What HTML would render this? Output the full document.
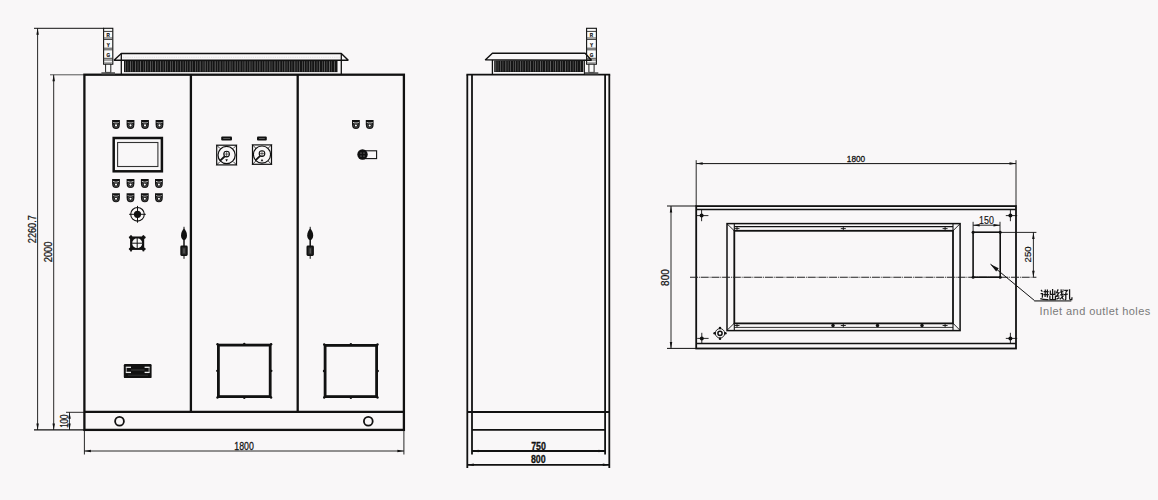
<!DOCTYPE html>
<html><head><meta charset="utf-8"><style>
html,body{margin:0;padding:0;background:#f9f7f8;}
svg{display:block;}
</style></head><body>
<svg width="1158" height="500" viewBox="0 0 1158 500">
<rect x="0" y="0" width="1158" height="500" fill="#f9f7f8"/>
<line x1="34" y1="28.3" x2="104" y2="28.3" stroke="#111" stroke-width="1.0" />
<line x1="37.6" y1="28.3" x2="37.6" y2="429.9" stroke="#111" stroke-width="0.9" />
<path d="M37.60,28.30 L38.85,34.80 L36.35,34.80 Z" fill="#111"/>
<path d="M37.60,429.90 L36.35,423.40 L38.85,423.40 Z" fill="#111"/>
<line x1="50" y1="74.8" x2="84" y2="74.8" stroke="#555" stroke-width="1.0" />
<line x1="53.7" y1="74.8" x2="53.7" y2="429.9" stroke="#111" stroke-width="0.9" />
<path d="M53.70,74.80 L54.95,81.30 L52.45,81.30 Z" fill="#111"/>
<path d="M53.70,429.90 L52.45,423.40 L54.95,423.40 Z" fill="#111"/>
<line x1="34" y1="429.9" x2="84" y2="429.9" stroke="#111" stroke-width="1.4" />
<line x1="66" y1="412.3" x2="84" y2="412.3" stroke="#111" stroke-width="0.9" />
<line x1="69.5" y1="412.3" x2="69.5" y2="429.9" stroke="#111" stroke-width="0.8" />
<path d="M69.50,412.30 L70.75,418.80 L68.25,418.80 Z" fill="#111"/>
<path d="M69.50,429.90 L68.25,423.40 L70.75,423.40 Z" fill="#111"/>
<text transform="translate(35.9,229.2) rotate(-90) scale(0.88,1)" font-family="Liberation Sans" font-size="10.4" font-weight="normal" text-anchor="middle" fill="#111" stroke="#111" stroke-width="0.25" >2260.7</text>
<text transform="translate(51.6,251.9) rotate(-90) scale(0.9,1)" font-family="Liberation Sans" font-size="10.4" font-weight="normal" text-anchor="middle" fill="#111" stroke="#111" stroke-width="0.25" >2000</text>
<text transform="translate(68.2,421.2) rotate(-90) scale(0.74,1)" font-family="Liberation Sans" font-size="10.8" font-weight="normal" text-anchor="middle" fill="#111" stroke="#111" stroke-width="0.2" >100</text>
<rect x="84.4" y="74.7" width="319.5" height="355.2" stroke="#111" stroke-width="2.3" fill="none" />
<line x1="84.4" y1="411.9" x2="403.9" y2="411.9" stroke="#111" stroke-width="2.2" />
<line x1="190.9" y1="74.7" x2="190.9" y2="412" stroke="#111" stroke-width="2.3" />
<line x1="297.7" y1="74.7" x2="297.7" y2="412" stroke="#111" stroke-width="2.3" />
<circle cx="119.5" cy="421.2" r="4.4" fill="none" stroke="#111" stroke-width="1.8"/>
<circle cx="368.3" cy="421.2" r="4.4" fill="none" stroke="#111" stroke-width="1.8"/>
<line x1="84.4" y1="429.9" x2="84.4" y2="454.5" stroke="#111" stroke-width="0.9" />
<line x1="403.9" y1="429.9" x2="403.9" y2="454.5" stroke="#111" stroke-width="0.9" />
<line x1="84.4" y1="451" x2="403.9" y2="451" stroke="#111" stroke-width="0.9" />
<path d="M84.40,451.00 L90.90,449.75 L90.90,452.25 Z" fill="#111"/>
<path d="M403.90,451.00 L397.40,452.25 L397.40,449.75 Z" fill="#111"/>
<text transform="translate(244,449.8) scale(0.86,1)" font-family="Liberation Sans" font-size="10.2" font-weight="normal" text-anchor="middle" fill="#111" stroke="#111" stroke-width="0.25" >1800</text>
<path d="M114,60.3 L121.3,53.5 L341.3,53.5 L348.3,60.3 Z" fill="#f9f7f8" stroke="#111" stroke-width="1.4" stroke-linejoin="bevel"/>
<line x1="121.3" y1="53.5" x2="121.3" y2="74.8" stroke="#111" stroke-width="1.3" />
<line x1="341.3" y1="53.5" x2="341.3" y2="74.8" stroke="#111" stroke-width="1.3" />
<line x1="123" y1="57.3" x2="340" y2="57.3" stroke="#ccc" stroke-width="0.8" stroke-dasharray="1.2,1" opacity="0.6"/>
<rect x="124" y="60.6" width="213.5" height="11.499999999999993" fill="#151515"/>
<line x1="125.6" y1="61.2" x2="125.6" y2="71.69999999999999" stroke="#c8c8c8" stroke-width="0.55" opacity="0.75"/>
<line x1="127.9" y1="61.2" x2="127.9" y2="71.69999999999999" stroke="#c8c8c8" stroke-width="0.55" opacity="0.5"/>
<line x1="130.5" y1="61.2" x2="130.5" y2="71.69999999999999" stroke="#c8c8c8" stroke-width="0.55" opacity="0.75"/>
<line x1="132.7" y1="61.2" x2="132.7" y2="71.69999999999999" stroke="#c8c8c8" stroke-width="0.55" opacity="0.5"/>
<line x1="135.6" y1="61.2" x2="135.6" y2="71.69999999999999" stroke="#c8c8c8" stroke-width="0.55" opacity="0.75"/>
<line x1="138.0" y1="61.2" x2="138.0" y2="71.69999999999999" stroke="#c8c8c8" stroke-width="0.55" opacity="0.5"/>
<line x1="140.5" y1="61.2" x2="140.5" y2="71.69999999999999" stroke="#c8c8c8" stroke-width="0.55" opacity="0.75"/>
<line x1="143.3" y1="61.2" x2="143.3" y2="71.69999999999999" stroke="#c8c8c8" stroke-width="0.55" opacity="0.5"/>
<line x1="145.5" y1="61.2" x2="145.5" y2="71.69999999999999" stroke="#c8c8c8" stroke-width="0.55" opacity="0.75"/>
<line x1="147.8" y1="61.2" x2="147.8" y2="71.69999999999999" stroke="#c8c8c8" stroke-width="0.55" opacity="0.5"/>
<line x1="150.4" y1="61.2" x2="150.4" y2="71.69999999999999" stroke="#c8c8c8" stroke-width="0.55" opacity="0.75"/>
<line x1="152.6" y1="61.2" x2="152.6" y2="71.69999999999999" stroke="#c8c8c8" stroke-width="0.55" opacity="0.5"/>
<line x1="155.5" y1="61.2" x2="155.5" y2="71.69999999999999" stroke="#c8c8c8" stroke-width="0.55" opacity="0.75"/>
<line x1="157.9" y1="61.2" x2="157.9" y2="71.69999999999999" stroke="#c8c8c8" stroke-width="0.55" opacity="0.5"/>
<line x1="160.4" y1="61.2" x2="160.4" y2="71.69999999999999" stroke="#c8c8c8" stroke-width="0.55" opacity="0.75"/>
<line x1="163.2" y1="61.2" x2="163.2" y2="71.69999999999999" stroke="#c8c8c8" stroke-width="0.55" opacity="0.5"/>
<line x1="165.4" y1="61.2" x2="165.4" y2="71.69999999999999" stroke="#c8c8c8" stroke-width="0.55" opacity="0.75"/>
<line x1="167.7" y1="61.2" x2="167.7" y2="71.69999999999999" stroke="#c8c8c8" stroke-width="0.55" opacity="0.5"/>
<line x1="170.3" y1="61.2" x2="170.3" y2="71.69999999999999" stroke="#c8c8c8" stroke-width="0.55" opacity="0.75"/>
<line x1="172.5" y1="61.2" x2="172.5" y2="71.69999999999999" stroke="#c8c8c8" stroke-width="0.55" opacity="0.5"/>
<line x1="175.4" y1="61.2" x2="175.4" y2="71.69999999999999" stroke="#c8c8c8" stroke-width="0.55" opacity="0.75"/>
<line x1="177.8" y1="61.2" x2="177.8" y2="71.69999999999999" stroke="#c8c8c8" stroke-width="0.55" opacity="0.5"/>
<line x1="180.3" y1="61.2" x2="180.3" y2="71.69999999999999" stroke="#c8c8c8" stroke-width="0.55" opacity="0.75"/>
<line x1="183.1" y1="61.2" x2="183.1" y2="71.69999999999999" stroke="#c8c8c8" stroke-width="0.55" opacity="0.5"/>
<line x1="185.3" y1="61.2" x2="185.3" y2="71.69999999999999" stroke="#c8c8c8" stroke-width="0.55" opacity="0.75"/>
<line x1="187.6" y1="61.2" x2="187.6" y2="71.69999999999999" stroke="#c8c8c8" stroke-width="0.55" opacity="0.5"/>
<line x1="190.2" y1="61.2" x2="190.2" y2="71.69999999999999" stroke="#c8c8c8" stroke-width="0.55" opacity="0.75"/>
<line x1="192.4" y1="61.2" x2="192.4" y2="71.69999999999999" stroke="#c8c8c8" stroke-width="0.55" opacity="0.5"/>
<line x1="195.3" y1="61.2" x2="195.3" y2="71.69999999999999" stroke="#c8c8c8" stroke-width="0.55" opacity="0.75"/>
<line x1="197.7" y1="61.2" x2="197.7" y2="71.69999999999999" stroke="#c8c8c8" stroke-width="0.55" opacity="0.5"/>
<line x1="200.2" y1="61.2" x2="200.2" y2="71.69999999999999" stroke="#c8c8c8" stroke-width="0.55" opacity="0.75"/>
<line x1="203.0" y1="61.2" x2="203.0" y2="71.69999999999999" stroke="#c8c8c8" stroke-width="0.55" opacity="0.5"/>
<line x1="205.2" y1="61.2" x2="205.2" y2="71.69999999999999" stroke="#c8c8c8" stroke-width="0.55" opacity="0.75"/>
<line x1="207.5" y1="61.2" x2="207.5" y2="71.69999999999999" stroke="#c8c8c8" stroke-width="0.55" opacity="0.5"/>
<line x1="210.1" y1="61.2" x2="210.1" y2="71.69999999999999" stroke="#c8c8c8" stroke-width="0.55" opacity="0.75"/>
<line x1="212.3" y1="61.2" x2="212.3" y2="71.69999999999999" stroke="#c8c8c8" stroke-width="0.55" opacity="0.5"/>
<line x1="215.2" y1="61.2" x2="215.2" y2="71.69999999999999" stroke="#c8c8c8" stroke-width="0.55" opacity="0.75"/>
<line x1="217.6" y1="61.2" x2="217.6" y2="71.69999999999999" stroke="#c8c8c8" stroke-width="0.55" opacity="0.5"/>
<line x1="220.1" y1="61.2" x2="220.1" y2="71.69999999999999" stroke="#c8c8c8" stroke-width="0.55" opacity="0.75"/>
<line x1="222.9" y1="61.2" x2="222.9" y2="71.69999999999999" stroke="#c8c8c8" stroke-width="0.55" opacity="0.5"/>
<line x1="225.1" y1="61.2" x2="225.1" y2="71.69999999999999" stroke="#c8c8c8" stroke-width="0.55" opacity="0.75"/>
<line x1="227.4" y1="61.2" x2="227.4" y2="71.69999999999999" stroke="#c8c8c8" stroke-width="0.55" opacity="0.5"/>
<line x1="230.0" y1="61.2" x2="230.0" y2="71.69999999999999" stroke="#c8c8c8" stroke-width="0.55" opacity="0.75"/>
<line x1="232.2" y1="61.2" x2="232.2" y2="71.69999999999999" stroke="#c8c8c8" stroke-width="0.55" opacity="0.5"/>
<line x1="235.1" y1="61.2" x2="235.1" y2="71.69999999999999" stroke="#c8c8c8" stroke-width="0.55" opacity="0.75"/>
<line x1="237.5" y1="61.2" x2="237.5" y2="71.69999999999999" stroke="#c8c8c8" stroke-width="0.55" opacity="0.5"/>
<line x1="240.0" y1="61.2" x2="240.0" y2="71.69999999999999" stroke="#c8c8c8" stroke-width="0.55" opacity="0.75"/>
<line x1="242.8" y1="61.2" x2="242.8" y2="71.69999999999999" stroke="#c8c8c8" stroke-width="0.55" opacity="0.5"/>
<line x1="245.0" y1="61.2" x2="245.0" y2="71.69999999999999" stroke="#c8c8c8" stroke-width="0.55" opacity="0.75"/>
<line x1="247.3" y1="61.2" x2="247.3" y2="71.69999999999999" stroke="#c8c8c8" stroke-width="0.55" opacity="0.5"/>
<line x1="249.9" y1="61.2" x2="249.9" y2="71.69999999999999" stroke="#c8c8c8" stroke-width="0.55" opacity="0.75"/>
<line x1="252.1" y1="61.2" x2="252.1" y2="71.69999999999999" stroke="#c8c8c8" stroke-width="0.55" opacity="0.5"/>
<line x1="255.0" y1="61.2" x2="255.0" y2="71.69999999999999" stroke="#c8c8c8" stroke-width="0.55" opacity="0.75"/>
<line x1="257.4" y1="61.2" x2="257.4" y2="71.69999999999999" stroke="#c8c8c8" stroke-width="0.55" opacity="0.5"/>
<line x1="259.9" y1="61.2" x2="259.9" y2="71.69999999999999" stroke="#c8c8c8" stroke-width="0.55" opacity="0.75"/>
<line x1="262.7" y1="61.2" x2="262.7" y2="71.69999999999999" stroke="#c8c8c8" stroke-width="0.55" opacity="0.5"/>
<line x1="264.9" y1="61.2" x2="264.9" y2="71.69999999999999" stroke="#c8c8c8" stroke-width="0.55" opacity="0.75"/>
<line x1="267.2" y1="61.2" x2="267.2" y2="71.69999999999999" stroke="#c8c8c8" stroke-width="0.55" opacity="0.5"/>
<line x1="269.8" y1="61.2" x2="269.8" y2="71.69999999999999" stroke="#c8c8c8" stroke-width="0.55" opacity="0.75"/>
<line x1="272.0" y1="61.2" x2="272.0" y2="71.69999999999999" stroke="#c8c8c8" stroke-width="0.55" opacity="0.5"/>
<line x1="274.9" y1="61.2" x2="274.9" y2="71.69999999999999" stroke="#c8c8c8" stroke-width="0.55" opacity="0.75"/>
<line x1="277.3" y1="61.2" x2="277.3" y2="71.69999999999999" stroke="#c8c8c8" stroke-width="0.55" opacity="0.5"/>
<line x1="279.8" y1="61.2" x2="279.8" y2="71.69999999999999" stroke="#c8c8c8" stroke-width="0.55" opacity="0.75"/>
<line x1="282.6" y1="61.2" x2="282.6" y2="71.69999999999999" stroke="#c8c8c8" stroke-width="0.55" opacity="0.5"/>
<line x1="284.8" y1="61.2" x2="284.8" y2="71.69999999999999" stroke="#c8c8c8" stroke-width="0.55" opacity="0.75"/>
<line x1="287.1" y1="61.2" x2="287.1" y2="71.69999999999999" stroke="#c8c8c8" stroke-width="0.55" opacity="0.5"/>
<line x1="289.7" y1="61.2" x2="289.7" y2="71.69999999999999" stroke="#c8c8c8" stroke-width="0.55" opacity="0.75"/>
<line x1="291.9" y1="61.2" x2="291.9" y2="71.69999999999999" stroke="#c8c8c8" stroke-width="0.55" opacity="0.5"/>
<line x1="294.8" y1="61.2" x2="294.8" y2="71.69999999999999" stroke="#c8c8c8" stroke-width="0.55" opacity="0.75"/>
<line x1="297.2" y1="61.2" x2="297.2" y2="71.69999999999999" stroke="#c8c8c8" stroke-width="0.55" opacity="0.5"/>
<line x1="299.7" y1="61.2" x2="299.7" y2="71.69999999999999" stroke="#c8c8c8" stroke-width="0.55" opacity="0.75"/>
<line x1="302.5" y1="61.2" x2="302.5" y2="71.69999999999999" stroke="#c8c8c8" stroke-width="0.55" opacity="0.5"/>
<line x1="304.7" y1="61.2" x2="304.7" y2="71.69999999999999" stroke="#c8c8c8" stroke-width="0.55" opacity="0.75"/>
<line x1="307.0" y1="61.2" x2="307.0" y2="71.69999999999999" stroke="#c8c8c8" stroke-width="0.55" opacity="0.5"/>
<line x1="309.6" y1="61.2" x2="309.6" y2="71.69999999999999" stroke="#c8c8c8" stroke-width="0.55" opacity="0.75"/>
<line x1="311.8" y1="61.2" x2="311.8" y2="71.69999999999999" stroke="#c8c8c8" stroke-width="0.55" opacity="0.5"/>
<line x1="314.7" y1="61.2" x2="314.7" y2="71.69999999999999" stroke="#c8c8c8" stroke-width="0.55" opacity="0.75"/>
<line x1="317.1" y1="61.2" x2="317.1" y2="71.69999999999999" stroke="#c8c8c8" stroke-width="0.55" opacity="0.5"/>
<line x1="319.6" y1="61.2" x2="319.6" y2="71.69999999999999" stroke="#c8c8c8" stroke-width="0.55" opacity="0.75"/>
<line x1="322.4" y1="61.2" x2="322.4" y2="71.69999999999999" stroke="#c8c8c8" stroke-width="0.55" opacity="0.5"/>
<line x1="324.6" y1="61.2" x2="324.6" y2="71.69999999999999" stroke="#c8c8c8" stroke-width="0.55" opacity="0.75"/>
<line x1="326.9" y1="61.2" x2="326.9" y2="71.69999999999999" stroke="#c8c8c8" stroke-width="0.55" opacity="0.5"/>
<line x1="329.5" y1="61.2" x2="329.5" y2="71.69999999999999" stroke="#c8c8c8" stroke-width="0.55" opacity="0.75"/>
<line x1="331.7" y1="61.2" x2="331.7" y2="71.69999999999999" stroke="#c8c8c8" stroke-width="0.55" opacity="0.5"/>
<line x1="334.6" y1="61.2" x2="334.6" y2="71.69999999999999" stroke="#c8c8c8" stroke-width="0.55" opacity="0.75"/>
<rect x="103.6" y="28.3" width="9.200000000000003" height="35.900000000000006" fill="#fbfbfb" stroke="#111" stroke-width="1.1"/>
<line x1="103.6" y1="31.4" x2="112.8" y2="31.4" stroke="#222" stroke-width="0.9" />
<line x1="103.6" y1="38.0" x2="112.8" y2="38.0" stroke="#333" stroke-width="0.9" />
<line x1="103.6" y1="39.5" x2="112.8" y2="39.5" stroke="#333" stroke-width="0.9" />
<line x1="103.6" y1="48.2" x2="112.8" y2="48.2" stroke="#333" stroke-width="0.9" />
<line x1="103.6" y1="49.8" x2="112.8" y2="49.8" stroke="#333" stroke-width="0.9" />
<line x1="103.6" y1="58.3" x2="112.8" y2="58.3" stroke="#333" stroke-width="0.9" />
<line x1="103.6" y1="60.0" x2="112.8" y2="60.0" stroke="#333" stroke-width="0.9" />
<line x1="103.6" y1="62.4" x2="112.8" y2="62.4" stroke="#666" stroke-width="0.6" />
<text transform="translate(108.19999999999999,36.6)" font-family="Liberation Sans" font-size="4.6" font-weight="bold" text-anchor="middle" fill="#111" stroke="#111" stroke-width="0.2" >R</text>
<text transform="translate(108.19999999999999,46.6)" font-family="Liberation Sans" font-size="4.6" font-weight="bold" text-anchor="middle" fill="#111" stroke="#111" stroke-width="0.2" >Y</text>
<text transform="translate(108.19999999999999,56.6)" font-family="Liberation Sans" font-size="4.6" font-weight="bold" text-anchor="middle" fill="#111" stroke="#111" stroke-width="0.2" >G</text>
<rect x="105.6" y="64.2" width="5.2" height="8.2" fill="#fbfbfb" stroke="#222" stroke-width="1.0"/>
<rect x="101.39999999999999" y="72.2" width="13.6" height="2.2" fill="#555"/>
<path d="M112.1,119.9 L119.9,119.9 L119.9,124.4 Q119.9,128.9 116,128.9 Q112.1,128.9 112.1,124.4 Z" fill="#111"/>
<path d="M113.1,121.9 Q116,123.10000000000001 118.9,121.9 L118.9,122.80000000000001 Q116,123.5 113.1,122.80000000000001 Z" fill="#fff" opacity="0.9"/>
<circle cx="116" cy="125.4" r="2.3" fill="none" stroke="#777" stroke-width="0.5"/>
<circle cx="116" cy="125.4" r="1.05" fill="#fff"/>
<path d="M126.6,119.9 L134.4,119.9 L134.4,124.4 Q134.4,128.9 130.5,128.9 Q126.6,128.9 126.6,124.4 Z" fill="#111"/>
<path d="M127.6,121.9 Q130.5,123.10000000000001 133.4,121.9 L133.4,122.80000000000001 Q130.5,123.5 127.6,122.80000000000001 Z" fill="#fff" opacity="0.9"/>
<circle cx="130.5" cy="125.4" r="2.3" fill="none" stroke="#777" stroke-width="0.5"/>
<circle cx="130.5" cy="125.4" r="1.05" fill="#fff"/>
<path d="M141.1,119.9 L148.9,119.9 L148.9,124.4 Q148.9,128.9 145,128.9 Q141.1,128.9 141.1,124.4 Z" fill="#111"/>
<path d="M142.1,121.9 Q145,123.10000000000001 147.9,121.9 L147.9,122.80000000000001 Q145,123.5 142.1,122.80000000000001 Z" fill="#fff" opacity="0.9"/>
<circle cx="145" cy="125.4" r="2.3" fill="none" stroke="#777" stroke-width="0.5"/>
<circle cx="145" cy="125.4" r="1.05" fill="#fff"/>
<path d="M155.6,119.9 L163.4,119.9 L163.4,124.4 Q163.4,128.9 159.5,128.9 Q155.6,128.9 155.6,124.4 Z" fill="#111"/>
<path d="M156.6,121.9 Q159.5,123.10000000000001 162.4,121.9 L162.4,122.80000000000001 Q159.5,123.5 156.6,122.80000000000001 Z" fill="#fff" opacity="0.9"/>
<circle cx="159.5" cy="125.4" r="2.3" fill="none" stroke="#777" stroke-width="0.5"/>
<circle cx="159.5" cy="125.4" r="1.05" fill="#fff"/>
<rect x="113.7" y="138.0" width="48.2" height="33.30000000000001" stroke="#111" stroke-width="2.5" fill="none" />
<rect x="117.6" y="142.5" width="40.30000000000001" height="24.0" stroke="#333" stroke-width="1.1" fill="none" />
<path d="M112.1,179.1 L119.9,179.1 L119.9,183.6 Q119.9,188.1 116,188.1 Q112.1,188.1 112.1,183.6 Z" fill="#111"/>
<path d="M113.1,181.1 Q116,182.29999999999998 118.9,181.1 L118.9,182.0 Q116,182.7 113.1,182.0 Z" fill="#fff" opacity="0.9"/>
<circle cx="116" cy="184.6" r="2.3" fill="none" stroke="#777" stroke-width="0.5"/>
<circle cx="116" cy="184.6" r="1.05" fill="#fff"/>
<path d="M126.6,179.1 L134.4,179.1 L134.4,183.6 Q134.4,188.1 130.5,188.1 Q126.6,188.1 126.6,183.6 Z" fill="#111"/>
<path d="M127.6,181.1 Q130.5,182.29999999999998 133.4,181.1 L133.4,182.0 Q130.5,182.7 127.6,182.0 Z" fill="#fff" opacity="0.9"/>
<circle cx="130.5" cy="184.6" r="2.3" fill="none" stroke="#777" stroke-width="0.5"/>
<circle cx="130.5" cy="184.6" r="1.05" fill="#fff"/>
<path d="M140.9,179.1 L148.70000000000002,179.1 L148.70000000000002,183.6 Q148.70000000000002,188.1 144.8,188.1 Q140.9,188.1 140.9,183.6 Z" fill="#111"/>
<path d="M141.9,181.1 Q144.8,182.29999999999998 147.70000000000002,181.1 L147.70000000000002,182.0 Q144.8,182.7 141.9,182.0 Z" fill="#fff" opacity="0.9"/>
<circle cx="144.8" cy="184.6" r="2.3" fill="none" stroke="#777" stroke-width="0.5"/>
<circle cx="144.8" cy="184.6" r="1.05" fill="#fff"/>
<path d="M155.0,179.1 L162.8,179.1 L162.8,183.6 Q162.8,188.1 158.9,188.1 Q155.0,188.1 155.0,183.6 Z" fill="#111"/>
<path d="M156.0,181.1 Q158.9,182.29999999999998 161.8,181.1 L161.8,182.0 Q158.9,182.7 156.0,182.0 Z" fill="#fff" opacity="0.9"/>
<circle cx="158.9" cy="184.6" r="2.3" fill="none" stroke="#777" stroke-width="0.5"/>
<circle cx="158.9" cy="184.6" r="1.05" fill="#fff"/>
<path d="M112.1,193.2 L119.9,193.2 L119.9,197.7 Q119.9,202.2 116,202.2 Q112.1,202.2 112.1,197.7 Z" fill="#111"/>
<path d="M113.1,195.2 Q116,196.39999999999998 118.9,195.2 L118.9,196.1 Q116,196.79999999999998 113.1,196.1 Z" fill="#fff" opacity="0.9"/>
<circle cx="116" cy="198.7" r="2.3" fill="none" stroke="#777" stroke-width="0.5"/>
<circle cx="116" cy="198.7" r="1.05" fill="#fff"/>
<path d="M126.6,193.2 L134.4,193.2 L134.4,197.7 Q134.4,202.2 130.5,202.2 Q126.6,202.2 126.6,197.7 Z" fill="#111"/>
<path d="M127.6,195.2 Q130.5,196.39999999999998 133.4,195.2 L133.4,196.1 Q130.5,196.79999999999998 127.6,196.1 Z" fill="#fff" opacity="0.9"/>
<circle cx="130.5" cy="198.7" r="2.3" fill="none" stroke="#777" stroke-width="0.5"/>
<circle cx="130.5" cy="198.7" r="1.05" fill="#fff"/>
<path d="M140.9,193.2 L148.70000000000002,193.2 L148.70000000000002,197.7 Q148.70000000000002,202.2 144.8,202.2 Q140.9,202.2 140.9,197.7 Z" fill="#111"/>
<path d="M141.9,195.2 Q144.8,196.39999999999998 147.70000000000002,195.2 L147.70000000000002,196.1 Q144.8,196.79999999999998 141.9,196.1 Z" fill="#fff" opacity="0.9"/>
<circle cx="144.8" cy="198.7" r="2.3" fill="none" stroke="#777" stroke-width="0.5"/>
<circle cx="144.8" cy="198.7" r="1.05" fill="#fff"/>
<path d="M155.0,193.2 L162.8,193.2 L162.8,197.7 Q162.8,202.2 158.9,202.2 Q155.0,202.2 155.0,197.7 Z" fill="#111"/>
<path d="M156.0,195.2 Q158.9,196.39999999999998 161.8,195.2 L161.8,196.1 Q158.9,196.79999999999998 156.0,196.1 Z" fill="#fff" opacity="0.9"/>
<circle cx="158.9" cy="198.7" r="2.3" fill="none" stroke="#777" stroke-width="0.5"/>
<circle cx="158.9" cy="198.7" r="1.05" fill="#fff"/>
<circle cx="137.5" cy="214.3" r="6.8" fill="none" stroke="#111" stroke-width="1.1"/>
<circle cx="137.5" cy="214.3" r="3.6" fill="#111"/>
<line x1="129.1" y1="214.3" x2="145.8" y2="214.3" stroke="#111" stroke-width="1.0" />
<line x1="137.5" y1="205.9" x2="137.5" y2="222.7" stroke="#111" stroke-width="1.0" />
<rect x="130.4" y="236.8" width="13.6" height="12.8" fill="#111"/>
<circle cx="137.2" cy="243.2" r="5.0" fill="#fafafa"/>
<line x1="132" y1="243.2" x2="142.4" y2="243.2" stroke="#111" stroke-width="1.0" />
<line x1="137.2" y1="238" x2="137.2" y2="248.4" stroke="#111" stroke-width="1.0" />
<circle cx="131" cy="237.4" r="1.7" fill="#111"/>
<circle cx="143.4" cy="237.4" r="1.7" fill="#111"/>
<circle cx="131" cy="249" r="1.7" fill="#111"/>
<circle cx="143.4" cy="249" r="1.7" fill="#111"/>
<line x1="128.9" y1="237.4" x2="145.6" y2="237.4" stroke="#111" stroke-width="1.6" />
<line x1="128.9" y1="249" x2="145.6" y2="249" stroke="#111" stroke-width="1.6" />
<line x1="131" y1="235.2" x2="131" y2="251.4" stroke="#111" stroke-width="1.6" />
<line x1="143.4" y1="235.2" x2="143.4" y2="251.4" stroke="#111" stroke-width="1.6" />
<line x1="184" y1="226.8" x2="184" y2="230.5" stroke="#111" stroke-width="1.0" />
<path d="M184,228.6 C185.6,230 187.0,232.6 187.0,235.4 C187.0,237.8 185.8,239.6 184,240.3 C182.2,239.6 181.0,237.8 181.0,235.4 C181.0,232.6 182.4,230 184,228.6 Z" fill="#111"/>
<line x1="184" y1="239.5" x2="184" y2="246.4" stroke="#111" stroke-width="1.5" />
<rect x="181.1" y="246.4" width="5.8" height="8.8" rx="0.6" fill="#2a2a2a" stroke="#111" stroke-width="1.6"/>
<line x1="184" y1="248.4" x2="184" y2="253.4" stroke="#888" stroke-width="0.7" />
<line x1="184" y1="255" x2="184" y2="258.8" stroke="#111" stroke-width="1.0" />
<line x1="310.2" y1="226.8" x2="310.2" y2="230.5" stroke="#111" stroke-width="1.0" />
<path d="M310.2,228.6 C311.8,230 313.2,232.6 313.2,235.4 C313.2,237.8 312.0,239.6 310.2,240.3 C308.4,239.6 307.2,237.8 307.2,235.4 C307.2,232.6 308.59999999999997,230 310.2,228.6 Z" fill="#111"/>
<line x1="310.2" y1="239.5" x2="310.2" y2="246.4" stroke="#111" stroke-width="1.5" />
<rect x="307.3" y="246.4" width="5.8" height="8.8" rx="0.6" fill="#2a2a2a" stroke="#111" stroke-width="1.6"/>
<line x1="310.2" y1="248.4" x2="310.2" y2="253.4" stroke="#888" stroke-width="0.7" />
<line x1="310.2" y1="255" x2="310.2" y2="258.8" stroke="#111" stroke-width="1.0" />
<rect x="123.8" y="364.1" width="27.8" height="14" rx="1.2" fill="#111"/>
<line x1="125.8" y1="367.3" x2="131" y2="367.3" stroke="#f0f0f0" stroke-width="1.3" />
<line x1="144.6" y1="367.3" x2="149.6" y2="367.3" stroke="#f0f0f0" stroke-width="1.3" />
<line x1="125.8" y1="372.4" x2="131" y2="372.4" stroke="#f0f0f0" stroke-width="1.3" />
<line x1="144.6" y1="372.4" x2="149.6" y2="372.4" stroke="#f0f0f0" stroke-width="1.3" />
<line x1="126.3" y1="367.3" x2="126.3" y2="372.4" stroke="#ccc" stroke-width="0.8" />
<line x1="149.1" y1="367.3" x2="149.1" y2="372.4" stroke="#ccc" stroke-width="0.8" />
<line x1="131" y1="370" x2="144.5" y2="370" stroke="#555" stroke-width="0.7" />
<line x1="128" y1="375.2" x2="148" y2="375.2" stroke="#444" stroke-width="0.6" />
<rect x="221.2" y="136.4" width="10.800000000000011" height="4.2" rx="1" fill="#111"/>
<line x1="223.2" y1="138.5" x2="230" y2="138.5" stroke="#888" stroke-width="0.6" />
<rect x="216.70000000000002" y="145.20000000000002" width="19.799999999999983" height="19.69999999999996" stroke="#111" stroke-width="1.2" fill="none" />
<circle cx="226.60000000000002" cy="155.05" r="8.6" fill="none" stroke="#111" stroke-width="1.2"/>
<line x1="216.4" y1="144.9" x2="219.9" y2="148.4" stroke="#111" stroke-width="0.8" />
<line x1="236.8" y1="144.9" x2="233.3" y2="148.4" stroke="#111" stroke-width="0.8" />
<line x1="216.4" y1="165.2" x2="219.9" y2="161.7" stroke="#111" stroke-width="0.8" />
<line x1="236.8" y1="165.2" x2="233.3" y2="161.7" stroke="#111" stroke-width="0.8" />
<circle cx="226.60000000000002" cy="154.05" r="2.8" fill="none" stroke="#111" stroke-width="1.1"/>
<line x1="223.8" y1="154.05" x2="229.40000000000003" y2="154.05" stroke="#111" stroke-width="0.6" />
<line x1="226.60000000000002" y1="151.25" x2="226.60000000000002" y2="156.85000000000002" stroke="#111" stroke-width="0.6" />
<line x1="224.8" y1="156.25" x2="220.00000000000003" y2="160.85000000000002" stroke="#111" stroke-width="1.8" />
<path d="M226.60000000000002,161.65 L227.90000000000003,159.25 L225.3,159.25 Z" fill="#111"/>
<rect x="257" y="136.4" width="9.800000000000011" height="4.2" rx="1" fill="#111"/>
<line x1="259" y1="138.5" x2="264.8" y2="138.5" stroke="#888" stroke-width="0.6" />
<rect x="252.5" y="144.9" width="19.0" height="19.399999999999977" stroke="#111" stroke-width="1.2" fill="none" />
<circle cx="262.0" cy="154.6" r="8.6" fill="none" stroke="#111" stroke-width="1.2"/>
<line x1="252.2" y1="144.6" x2="255.7" y2="148.1" stroke="#111" stroke-width="0.8" />
<line x1="271.8" y1="144.6" x2="268.3" y2="148.1" stroke="#111" stroke-width="0.8" />
<line x1="252.2" y1="164.6" x2="255.7" y2="161.1" stroke="#111" stroke-width="0.8" />
<line x1="271.8" y1="164.6" x2="268.3" y2="161.1" stroke="#111" stroke-width="0.8" />
<circle cx="262.0" cy="153.6" r="2.8" fill="none" stroke="#111" stroke-width="1.1"/>
<line x1="259.2" y1="153.6" x2="264.8" y2="153.6" stroke="#111" stroke-width="0.6" />
<line x1="262.0" y1="150.79999999999998" x2="262.0" y2="156.4" stroke="#111" stroke-width="0.6" />
<line x1="260.2" y1="155.79999999999998" x2="255.4" y2="160.4" stroke="#111" stroke-width="1.8" />
<path d="M262.0,158.79999999999998 L263.3,161.2 L260.7,161.2 Z" fill="#111"/>
<path d="M352.0,120 L359.79999999999995,120 L359.79999999999995,124.5 Q359.79999999999995,129.0 355.9,129.0 Q352.0,129.0 352.0,124.5 Z" fill="#111"/>
<path d="M353.0,122.0 Q355.9,123.2 358.79999999999995,122.0 L358.79999999999995,122.9 Q355.9,123.6 353.0,122.9 Z" fill="#fff" opacity="0.9"/>
<circle cx="355.9" cy="125.5" r="2.3" fill="none" stroke="#777" stroke-width="0.5"/>
<circle cx="355.9" cy="125.5" r="1.05" fill="#fff"/>
<path d="M365.8,120 L373.59999999999997,120 L373.59999999999997,124.5 Q373.59999999999997,129.0 369.7,129.0 Q365.8,129.0 365.8,124.5 Z" fill="#111"/>
<path d="M366.8,122.0 Q369.7,123.2 372.59999999999997,122.0 L372.59999999999997,122.9 Q369.7,123.6 366.8,122.9 Z" fill="#fff" opacity="0.9"/>
<circle cx="369.7" cy="125.5" r="2.3" fill="none" stroke="#777" stroke-width="0.5"/>
<circle cx="369.7" cy="125.5" r="1.05" fill="#fff"/>
<rect x="362" y="150.8" width="14.600000000000023" height="7.799999999999983" stroke="#111" stroke-width="1.1" fill="none" />
<circle cx="362.5" cy="154.5" r="5.2" fill="#111"/>
<circle cx="361" cy="153" r="0.6" fill="#aaa"/>
<circle cx="364" cy="153" r="0.6" fill="#aaa"/>
<circle cx="361" cy="156" r="0.6" fill="#aaa"/>
<circle cx="364" cy="156" r="0.6" fill="#aaa"/>
<rect x="218.4" y="345.09999999999997" width="51.80000000000004" height="51.50000000000006" stroke="#111" stroke-width="2.8" fill="none" />
<circle cx="217.5" cy="344.2" r="1.2" fill="#111"/>
<circle cx="271.1" cy="344.2" r="1.2" fill="#111"/>
<circle cx="217.5" cy="397.5" r="1.2" fill="#111"/>
<circle cx="271.1" cy="397.5" r="1.2" fill="#111"/>
<circle cx="244.3" cy="344.0" r="1.2" fill="#111"/>
<circle cx="244.3" cy="397.7" r="1.2" fill="#111"/>
<circle cx="217.3" cy="370.85" r="1.2" fill="#111"/>
<circle cx="271.3" cy="370.85" r="1.2" fill="#111"/>
<rect x="325.09999999999997" y="345.4" width="51.50000000000006" height="51.200000000000045" stroke="#111" stroke-width="2.8" fill="none" />
<circle cx="324.2" cy="344.5" r="1.2" fill="#111"/>
<circle cx="377.5" cy="344.5" r="1.2" fill="#111"/>
<circle cx="324.2" cy="397.5" r="1.2" fill="#111"/>
<circle cx="377.5" cy="397.5" r="1.2" fill="#111"/>
<circle cx="350.85" cy="344.3" r="1.2" fill="#111"/>
<circle cx="350.85" cy="397.7" r="1.2" fill="#111"/>
<circle cx="324.0" cy="371.0" r="1.2" fill="#111"/>
<circle cx="377.7" cy="371.0" r="1.2" fill="#111"/>
<line x1="467.3" y1="74.7" x2="467.3" y2="468" stroke="#111" stroke-width="1.8" />
<line x1="472" y1="74.7" x2="472" y2="454.5" stroke="#111" stroke-width="1.8" />
<line x1="605.1" y1="74.7" x2="605.1" y2="454.5" stroke="#111" stroke-width="1.8" />
<line x1="609.3" y1="74.7" x2="609.3" y2="468" stroke="#111" stroke-width="1.8" />
<line x1="466.4" y1="74.7" x2="610.2" y2="74.7" stroke="#111" stroke-width="1.8" />
<line x1="467.3" y1="412" x2="609.3" y2="412" stroke="#111" stroke-width="1.8" />
<line x1="472" y1="429.8" x2="605.1" y2="429.8" stroke="#111" stroke-width="1.8" />
<line x1="472" y1="451" x2="605.1" y2="451" stroke="#111" stroke-width="1.8" />
<path d="M472.00,451.00 L478.50,449.75 L478.50,452.25 Z" fill="#111"/>
<path d="M605.10,451.00 L598.60,452.25 L598.60,449.75 Z" fill="#111"/>
<line x1="467.3" y1="464.8" x2="609.3" y2="464.8" stroke="#111" stroke-width="1.8" />
<path d="M467.30,464.80 L473.80,463.55 L473.80,466.05 Z" fill="#111"/>
<path d="M609.30,464.80 L602.80,466.05 L602.80,463.55 Z" fill="#111"/>
<text transform="translate(538.5,449.7) scale(0.82,1)" font-family="Liberation Sans" font-size="10.8" font-weight="bold" text-anchor="middle" fill="#111" stroke="#111" stroke-width="0.3" >750</text>
<text transform="translate(538.3,463.4) scale(0.82,1)" font-family="Liberation Sans" font-size="10.8" font-weight="bold" text-anchor="middle" fill="#111" stroke="#111" stroke-width="0.3" >800</text>
<rect x="586.6" y="28.3" width="9.799999999999955" height="35.900000000000006" fill="#fbfbfb" stroke="#111" stroke-width="1.1"/>
<line x1="586.6" y1="31.4" x2="596.4" y2="31.4" stroke="#222" stroke-width="0.9" />
<line x1="586.6" y1="38.0" x2="596.4" y2="38.0" stroke="#333" stroke-width="0.9" />
<line x1="586.6" y1="39.5" x2="596.4" y2="39.5" stroke="#333" stroke-width="0.9" />
<line x1="586.6" y1="48.2" x2="596.4" y2="48.2" stroke="#333" stroke-width="0.9" />
<line x1="586.6" y1="49.8" x2="596.4" y2="49.8" stroke="#333" stroke-width="0.9" />
<line x1="586.6" y1="58.3" x2="596.4" y2="58.3" stroke="#333" stroke-width="0.9" />
<line x1="586.6" y1="60.0" x2="596.4" y2="60.0" stroke="#333" stroke-width="0.9" />
<line x1="586.6" y1="62.4" x2="596.4" y2="62.4" stroke="#666" stroke-width="0.6" />
<text transform="translate(591.5,36.6)" font-family="Liberation Sans" font-size="4.6" font-weight="bold" text-anchor="middle" fill="#111" stroke="#111" stroke-width="0.2" >R</text>
<text transform="translate(591.5,46.6)" font-family="Liberation Sans" font-size="4.6" font-weight="bold" text-anchor="middle" fill="#111" stroke="#111" stroke-width="0.2" >Y</text>
<text transform="translate(591.5,56.6)" font-family="Liberation Sans" font-size="4.6" font-weight="bold" text-anchor="middle" fill="#111" stroke="#111" stroke-width="0.2" >G</text>
<rect x="588.9" y="64.2" width="5.2" height="8.2" fill="#fbfbfb" stroke="#222" stroke-width="1.0"/>
<rect x="584.7" y="72.2" width="13.6" height="2.2" fill="#555"/>
<path d="M485.2,59.9 L492.4,53.2 L585.1,53.2 L591.5,60.2 Z" fill="none" stroke="#111" stroke-width="1.4" stroke-linejoin="bevel"/>
<line x1="492.4" y1="59.9" x2="492.4" y2="74.7" stroke="#111" stroke-width="1.3" />
<line x1="584.4" y1="59.9" x2="584.4" y2="74.7" stroke="#111" stroke-width="1.0" />
<rect x="494.2" y="60.5" width="89.19999999999999" height="11.5" fill="#151515"/>
<line x1="495.8" y1="61.1" x2="495.8" y2="71.6" stroke="#c8c8c8" stroke-width="0.55" opacity="0.75"/>
<line x1="498.1" y1="61.1" x2="498.1" y2="71.6" stroke="#c8c8c8" stroke-width="0.55" opacity="0.5"/>
<line x1="500.7" y1="61.1" x2="500.7" y2="71.6" stroke="#c8c8c8" stroke-width="0.55" opacity="0.75"/>
<line x1="502.9" y1="61.1" x2="502.9" y2="71.6" stroke="#c8c8c8" stroke-width="0.55" opacity="0.5"/>
<line x1="505.8" y1="61.1" x2="505.8" y2="71.6" stroke="#c8c8c8" stroke-width="0.55" opacity="0.75"/>
<line x1="508.2" y1="61.1" x2="508.2" y2="71.6" stroke="#c8c8c8" stroke-width="0.55" opacity="0.5"/>
<line x1="510.7" y1="61.1" x2="510.7" y2="71.6" stroke="#c8c8c8" stroke-width="0.55" opacity="0.75"/>
<line x1="513.5" y1="61.1" x2="513.5" y2="71.6" stroke="#c8c8c8" stroke-width="0.55" opacity="0.5"/>
<line x1="515.7" y1="61.1" x2="515.7" y2="71.6" stroke="#c8c8c8" stroke-width="0.55" opacity="0.75"/>
<line x1="518.0" y1="61.1" x2="518.0" y2="71.6" stroke="#c8c8c8" stroke-width="0.55" opacity="0.5"/>
<line x1="520.6" y1="61.1" x2="520.6" y2="71.6" stroke="#c8c8c8" stroke-width="0.55" opacity="0.75"/>
<line x1="522.8" y1="61.1" x2="522.8" y2="71.6" stroke="#c8c8c8" stroke-width="0.55" opacity="0.5"/>
<line x1="525.7" y1="61.1" x2="525.7" y2="71.6" stroke="#c8c8c8" stroke-width="0.55" opacity="0.75"/>
<line x1="528.1" y1="61.1" x2="528.1" y2="71.6" stroke="#c8c8c8" stroke-width="0.55" opacity="0.5"/>
<line x1="530.6" y1="61.1" x2="530.6" y2="71.6" stroke="#c8c8c8" stroke-width="0.55" opacity="0.75"/>
<line x1="533.4" y1="61.1" x2="533.4" y2="71.6" stroke="#c8c8c8" stroke-width="0.55" opacity="0.5"/>
<line x1="535.6" y1="61.1" x2="535.6" y2="71.6" stroke="#c8c8c8" stroke-width="0.55" opacity="0.75"/>
<line x1="537.9" y1="61.1" x2="537.9" y2="71.6" stroke="#c8c8c8" stroke-width="0.55" opacity="0.5"/>
<line x1="540.5" y1="61.1" x2="540.5" y2="71.6" stroke="#c8c8c8" stroke-width="0.55" opacity="0.75"/>
<line x1="542.7" y1="61.1" x2="542.7" y2="71.6" stroke="#c8c8c8" stroke-width="0.55" opacity="0.5"/>
<line x1="545.6" y1="61.1" x2="545.6" y2="71.6" stroke="#c8c8c8" stroke-width="0.55" opacity="0.75"/>
<line x1="548.0" y1="61.1" x2="548.0" y2="71.6" stroke="#c8c8c8" stroke-width="0.55" opacity="0.5"/>
<line x1="550.5" y1="61.1" x2="550.5" y2="71.6" stroke="#c8c8c8" stroke-width="0.55" opacity="0.75"/>
<line x1="553.3" y1="61.1" x2="553.3" y2="71.6" stroke="#c8c8c8" stroke-width="0.55" opacity="0.5"/>
<line x1="555.5" y1="61.1" x2="555.5" y2="71.6" stroke="#c8c8c8" stroke-width="0.55" opacity="0.75"/>
<line x1="557.8" y1="61.1" x2="557.8" y2="71.6" stroke="#c8c8c8" stroke-width="0.55" opacity="0.5"/>
<line x1="560.4" y1="61.1" x2="560.4" y2="71.6" stroke="#c8c8c8" stroke-width="0.55" opacity="0.75"/>
<line x1="562.6" y1="61.1" x2="562.6" y2="71.6" stroke="#c8c8c8" stroke-width="0.55" opacity="0.5"/>
<line x1="565.5" y1="61.1" x2="565.5" y2="71.6" stroke="#c8c8c8" stroke-width="0.55" opacity="0.75"/>
<line x1="567.9" y1="61.1" x2="567.9" y2="71.6" stroke="#c8c8c8" stroke-width="0.55" opacity="0.5"/>
<line x1="570.4" y1="61.1" x2="570.4" y2="71.6" stroke="#c8c8c8" stroke-width="0.55" opacity="0.75"/>
<line x1="573.2" y1="61.1" x2="573.2" y2="71.6" stroke="#c8c8c8" stroke-width="0.55" opacity="0.5"/>
<line x1="575.4" y1="61.1" x2="575.4" y2="71.6" stroke="#c8c8c8" stroke-width="0.55" opacity="0.75"/>
<line x1="577.7" y1="61.1" x2="577.7" y2="71.6" stroke="#c8c8c8" stroke-width="0.55" opacity="0.5"/>
<line x1="580.3" y1="61.1" x2="580.3" y2="71.6" stroke="#c8c8c8" stroke-width="0.55" opacity="0.75"/>
<line x1="696.2" y1="160.2" x2="696.2" y2="206" stroke="#111" stroke-width="0.9" />
<line x1="1016" y1="160.2" x2="1016" y2="206" stroke="#111" stroke-width="0.9" />
<line x1="696.2" y1="163.6" x2="1016" y2="163.6" stroke="#111" stroke-width="1.0" />
<path d="M696.20,163.60 L702.70,162.35 L702.70,164.85 Z" fill="#111"/>
<path d="M1016.00,163.60 L1009.50,164.85 L1009.50,162.35 Z" fill="#111"/>
<text transform="translate(856,161.9) scale(0.84,1)" font-family="Liberation Sans" font-size="9.8" font-weight="normal" text-anchor="middle" fill="#111" stroke="#111" stroke-width="0.3" >1800</text>
<line x1="667" y1="206" x2="696.2" y2="206" stroke="#111" stroke-width="1.0" />
<line x1="667" y1="348.4" x2="696.2" y2="348.4" stroke="#111" stroke-width="1.0" />
<line x1="671" y1="206" x2="671" y2="348.4" stroke="#111" stroke-width="0.9" />
<path d="M671.00,206.00 L672.25,212.50 L669.75,212.50 Z" fill="#111"/>
<path d="M671.00,348.40 L669.75,341.90 L672.25,341.90 Z" fill="#111"/>
<text transform="translate(669.3,277.6) rotate(-90) scale(0.98,1)" font-family="Liberation Sans" font-size="10.2" font-weight="normal" text-anchor="middle" fill="#111" stroke="#111" stroke-width="0.25" >800</text>
<rect x="696.2" y="206.1" width="319.79999999999995" height="142.4" stroke="#111" stroke-width="1.8" fill="none" />
<line x1="696.2" y1="209.6" x2="1016" y2="209.6" stroke="#111" stroke-width="1.5" />
<line x1="696.2" y1="343.6" x2="1016" y2="343.6" stroke="#111" stroke-width="1.5" />
<circle cx="701.6" cy="215.6" r="2.0" fill="#111"/>
<line x1="701.6" y1="210.0" x2="701.6" y2="221.2" stroke="#111" stroke-width="0.9" />
<line x1="697.0" y1="215.6" x2="708.4" y2="215.6" stroke="#111" stroke-width="0.9" />
<circle cx="1010.4" cy="215.6" r="2.0" fill="#111"/>
<line x1="1010.4" y1="210.0" x2="1010.4" y2="221.2" stroke="#111" stroke-width="0.9" />
<line x1="1005.8" y1="215.6" x2="1017.1999999999999" y2="215.6" stroke="#111" stroke-width="0.9" />
<circle cx="701.8" cy="338.4" r="2.0" fill="#111"/>
<line x1="701.8" y1="332.79999999999995" x2="701.8" y2="344.0" stroke="#111" stroke-width="0.9" />
<line x1="697.1999999999999" y1="338.4" x2="708.5999999999999" y2="338.4" stroke="#111" stroke-width="0.9" />
<circle cx="1010.4" cy="338.4" r="2.0" fill="#111"/>
<line x1="1010.4" y1="332.79999999999995" x2="1010.4" y2="344.0" stroke="#111" stroke-width="0.9" />
<line x1="1005.8" y1="338.4" x2="1017.1999999999999" y2="338.4" stroke="#111" stroke-width="0.9" />
<rect x="727" y="223.6" width="233.10000000000002" height="107.00000000000003" stroke="#111" stroke-width="1.5" fill="none" />
<rect x="734.3" y="230.8" width="218.70000000000005" height="92.59999999999997" stroke="#111" stroke-width="1.8" fill="none" />
<line x1="734.3" y1="226.6" x2="953" y2="226.6" stroke="#111" stroke-width="1.1" />
<line x1="734.3" y1="327.4" x2="953" y2="327.4" stroke="#333" stroke-width="1.0" />
<line x1="734.3" y1="223.8" x2="734.3" y2="230.8" stroke="#111" stroke-width="1.1" />
<line x1="953" y1="223.8" x2="953" y2="230.8" stroke="#111" stroke-width="1.1" />
<line x1="734.3" y1="323.2" x2="734.3" y2="330.3" stroke="#111" stroke-width="1.1" />
<line x1="953" y1="323.2" x2="953" y2="330.3" stroke="#111" stroke-width="1.1" />
<line x1="727" y1="223.8" x2="734.3" y2="230.8" stroke="#111" stroke-width="0.9" />
<line x1="960" y1="223.8" x2="953" y2="230.8" stroke="#111" stroke-width="0.9" />
<line x1="727" y1="330.3" x2="734.3" y2="323.2" stroke="#111" stroke-width="0.9" />
<line x1="960" y1="330.3" x2="953" y2="323.2" stroke="#111" stroke-width="0.9" />
<line x1="734.5" y1="228.6" x2="739.5" y2="228.6" stroke="#111" stroke-width="0.9" />
<line x1="737" y1="226.79999999999998" x2="737" y2="230.4" stroke="#111" stroke-width="0.9" />
<line x1="734.5" y1="325.5" x2="739.5" y2="325.5" stroke="#111" stroke-width="0.9" />
<line x1="737" y1="323.7" x2="737" y2="327.3" stroke="#111" stroke-width="0.9" />
<line x1="840.8" y1="228.6" x2="845.8" y2="228.6" stroke="#111" stroke-width="0.9" />
<line x1="843.3" y1="226.79999999999998" x2="843.3" y2="230.4" stroke="#111" stroke-width="0.9" />
<line x1="840.8" y1="325.5" x2="845.8" y2="325.5" stroke="#111" stroke-width="0.9" />
<line x1="843.3" y1="323.7" x2="843.3" y2="327.3" stroke="#111" stroke-width="0.9" />
<line x1="942.6" y1="228.6" x2="947.6" y2="228.6" stroke="#111" stroke-width="0.9" />
<line x1="945.1" y1="226.79999999999998" x2="945.1" y2="230.4" stroke="#111" stroke-width="0.9" />
<line x1="942.6" y1="325.5" x2="947.6" y2="325.5" stroke="#111" stroke-width="0.9" />
<line x1="945.1" y1="323.7" x2="945.1" y2="327.3" stroke="#111" stroke-width="0.9" />
<circle cx="833" cy="325.6" r="1.75" fill="#111"/>
<circle cx="877.5" cy="325.6" r="1.75" fill="#111"/>
<circle cx="922" cy="325.6" r="1.75" fill="#111"/>
<circle cx="720" cy="333.3" r="4.7" fill="none" stroke="#111" stroke-width="0.9"/>
<circle cx="720" cy="333.3" r="2.1" fill="none" stroke="#111" stroke-width="1.5"/>
<circle cx="720" cy="327.9" r="1.25" fill="#111"/>
<circle cx="720" cy="338.7" r="1.25" fill="#111"/>
<circle cx="714.6" cy="333.3" r="1.25" fill="#111"/>
<circle cx="725.4" cy="333.3" r="1.25" fill="#111"/>
<line x1="690" y1="277.2" x2="1036.4" y2="277.2" stroke="#222" stroke-width="1.1" stroke-dasharray="8,0.9,0.9,0.9"/>
<rect x="973.1" y="232.2" width="27.100000000000023" height="45.0" stroke="#111" stroke-width="1.6" fill="none" />
<circle cx="973.1" cy="232.2" r="1.5" fill="#111"/>
<circle cx="1000.2" cy="232.2" r="1.5" fill="#111"/>
<circle cx="973.1" cy="277.2" r="1.5" fill="#111"/>
<circle cx="1000.2" cy="277.2" r="1.5" fill="#111"/>
<line x1="973.1" y1="221.8" x2="973.1" y2="232" stroke="#111" stroke-width="0.9" />
<line x1="1000" y1="221.8" x2="1000" y2="232" stroke="#111" stroke-width="0.9" />
<line x1="973.1" y1="225.2" x2="1000" y2="225.2" stroke="#111" stroke-width="0.9" />
<path d="M973.10,225.20 L979.60,223.95 L979.60,226.45 Z" fill="#111"/>
<path d="M1000.00,225.20 L993.50,226.45 L993.50,223.95 Z" fill="#111"/>
<text transform="translate(986.5,223.9) scale(0.84,1)" font-family="Liberation Sans" font-size="10.6" font-weight="normal" text-anchor="middle" fill="#111" stroke="#111" stroke-width="0.15" >150</text>
<line x1="1000" y1="232.4" x2="1036.4" y2="232.4" stroke="#111" stroke-width="0.9" />
<line x1="1033.4" y1="232.4" x2="1033.4" y2="277.2" stroke="#111" stroke-width="0.9" />
<path d="M1033.40,232.40 L1034.65,238.90 L1032.15,238.90 Z" fill="#111"/>
<path d="M1033.40,277.20 L1032.15,270.70 L1034.65,270.70 Z" fill="#111"/>
<text transform="translate(1031.0,254.4) rotate(-90) scale(0.98,1)" font-family="Liberation Sans" font-size="9.8" font-weight="normal" text-anchor="middle" fill="#111" stroke="#111" stroke-width="0.2" >250</text>
<line x1="990.5" y1="264.2" x2="1034.8" y2="300.8" stroke="#111" stroke-width="1.0" />
<line x1="1034.3" y1="300.9" x2="1071.3" y2="300.9" stroke="#6a6a6a" stroke-width="1.6" />
<path d="M990.50,264.20 L998.72,268.37 L996.18,271.46 Z" fill="#111"/>
<g fill="none" stroke="#151515" stroke-width="1.25" stroke-linecap="butt">
<path d="M1041,290 l1.4,1.6 M1040.6,293.6 l1.9,0 l-0.2,4.2 M1040.3,298.6 q3,1.2 8.2,1 M1043.6,291.6 l5,0 M1043.4,294.6 l5.4,0 M1045.3,289.4 l-0.2,7.6 M1047.4,289.4 l0,8"/>
<path d="M1052.6,289 l0,10.4 M1050.3,290.6 l0,3.8 l4.6,0 l0,-3.8 M1049.9,295.6 l0,3.9 l5.5,0 l0,-3.9"/>
<path d="M1058.2,289.4 l-1.6,3.2 l2.4,0.2 l-2.6,3.6 l3,-0.6 M1056.4,299.2 l3,-1.6 M1060.2,292.2 l3.2,-0.5 M1060.2,294.9 l3.6,-0.7 M1061,289.4 l1.4,8.6 l1.2,1.6 M1063.6,295.6 l-3.8,3.8 M1062.6,289.6 l0.9,0.9"/>
<path d="M1064.2,290.4 l3.2,0 l-1.6,2 M1064,294.6 l3.8,-0.5 M1065.8,292.4 l0,6.8 l-1,0.8 M1069.6,289.2 l0,9.4 q0,1 1,1 l1.2,0 l0.2,-2.4"/>
</g>
<text transform="translate(1039.6,314.8)" font-family="Liberation Sans" font-size="11" font-weight="normal" text-anchor="start" fill="#7a7a7a" textLength="110.6" lengthAdjust="spacing">Inlet and outlet holes</text>
</svg>
</body></html>
